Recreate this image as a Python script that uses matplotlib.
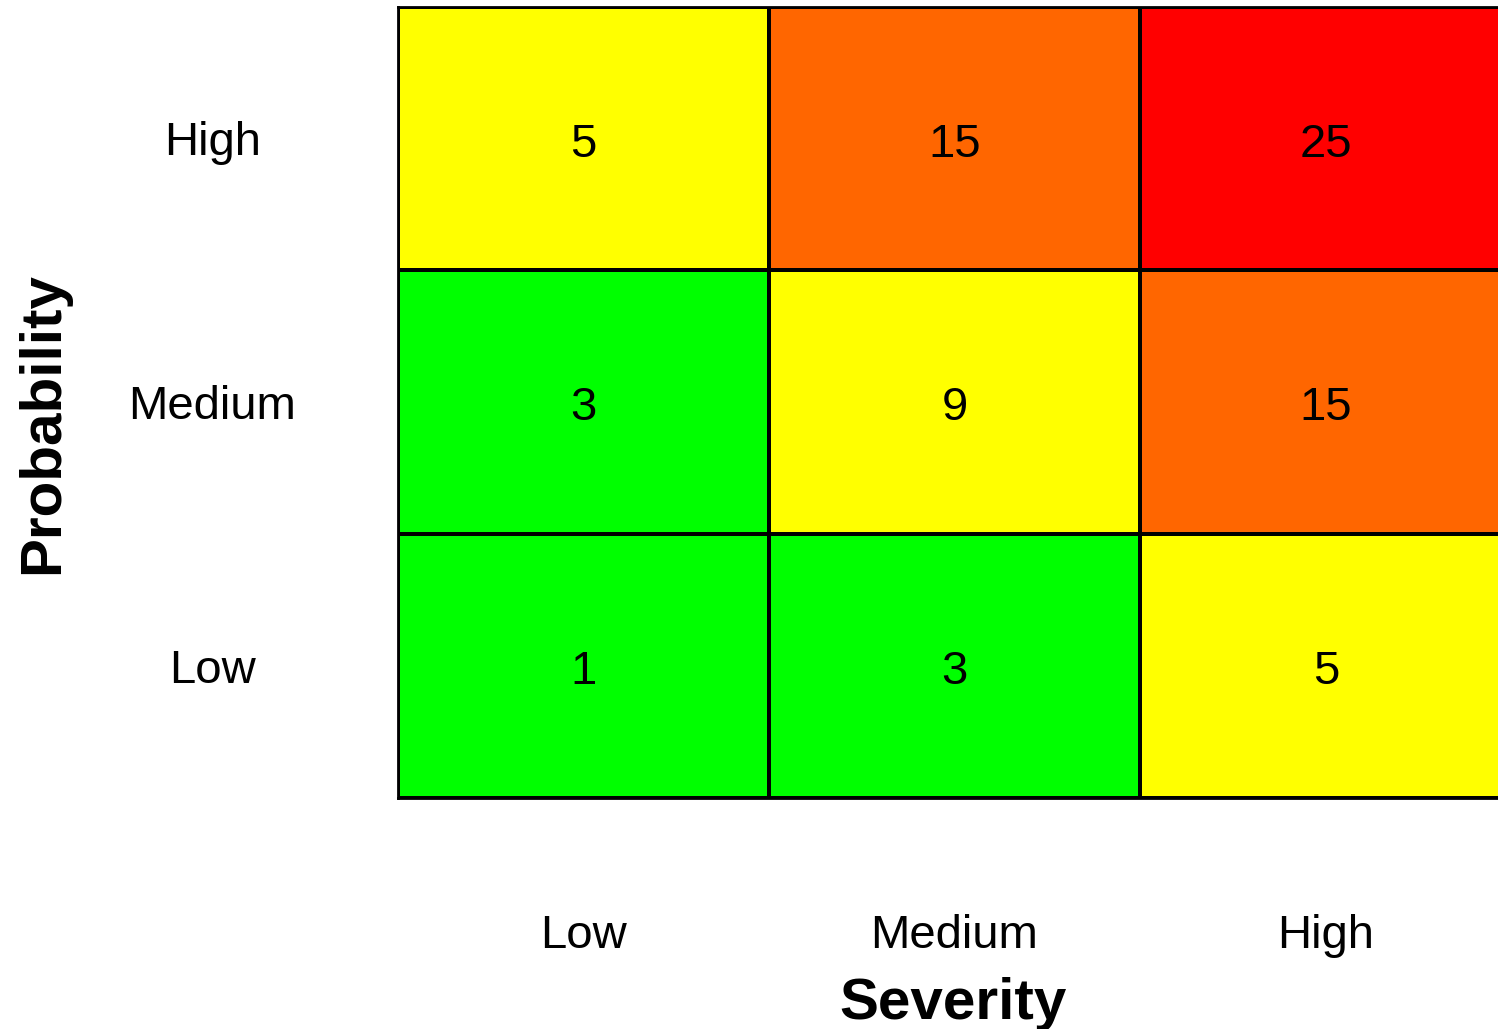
import matplotlib
matplotlib.use("Agg")
import matplotlib.pyplot as plt
from matplotlib.colors import ListedColormap, BoundaryNorm
from matplotlib.transforms import offset_copy
import numpy as np

plt.rcParams['font.family'] = ['Liberation Sans', 'DejaVu Sans']

severity = ["Low", "Medium", "High"]
probability = ["Low", "Medium", "High"]
# rows: probability Low -> High, columns: severity Low -> High
scores = [
    [1, 3, 5],
    [3, 9, 15],
    [5, 15, 25],
]

level_colors = ["#00FF00", "#FFFF00", "#FF6600", "#FF0000"]
level_bounds = [0, 4, 10, 20, 30]

W, H = 1498, 1029
fig = plt.figure(figsize=(W / 100, H / 100), dpi=100)
left, right, top, bottom = 397.5, 1511.5, 6.5, 797.5
ax = fig.add_axes([left / W, (H - bottom) / H, (right - left) / W, (bottom - top) / H])

data = np.array(scores)
cmap = ListedColormap(level_colors)
norm = BoundaryNorm(level_bounds, cmap.N)
ax.pcolormesh(np.arange(4), np.arange(4), data, cmap=cmap, norm=norm,
              edgecolors="black", linewidth=1.5)

# nudge the cell numbers so the digits sit optically centred
num_tf = offset_copy(ax.transData, fig=fig, x=0, y=-4.5, units="points")
for i in range(3):
    for j in range(3):
        ax.text(j + 0.5, i + 0.5, str(scores[i][j]), ha="center", va="center",
                fontsize=34, color="black", transform=num_tf)

ax.set_xlim(0, 3)
ax.set_ylim(0, 3)
for s in ax.spines.values():
    s.set_linewidth(2)
    s.set_color("black")

ax.set_xticks(np.arange(3) + 0.5, severity)
ax.set_yticks(np.arange(3) + 0.5, probability)
ax.tick_params(axis="both", length=0, labelsize=34)
ax.tick_params(axis="x", pad=138 * 0.72)
ax.tick_params(axis="y", pad=185 * 0.72)
for lbl in ax.get_xticklabels():
    lbl.set_verticalalignment("center")
for lbl in ax.get_yticklabels():
    lbl.set_horizontalalignment("center")

fig.text(953 / W, 1 - 1004 / H, "Severity", ha="center", va="center",
         fontsize=42, fontweight="bold")
fig.text(43 / W, 1 - 423 / H, "Probability", ha="center", va="center",
         fontsize=42, fontweight="bold", rotation=90)

fig.savefig("out.png", dpi=100)
